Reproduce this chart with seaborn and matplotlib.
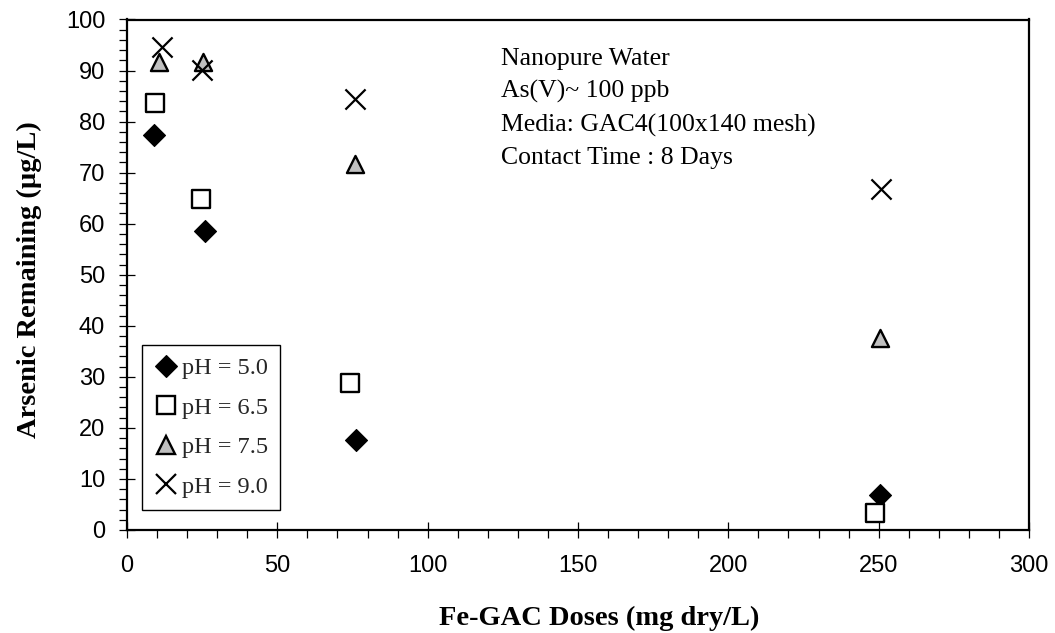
import matplotlib
matplotlib.use("Agg")
import matplotlib.pyplot as plt
from matplotlib.ticker import MultipleLocator
from matplotlib.lines import Line2D
import seaborn as sns

# Fe-GAC dose (mg dry/L) and arsenic remaining (ug/L) at each pH
dose_ph50 = [9.1, 26.0, 76.2, 250.5]
as_ph50 = [77.3, 58.5, 17.6, 6.8]
dose_ph65 = [9.4, 24.7, 74.2, 248.8]
as_ph65 = [83.6, 64.9, 28.7, 3.3]
dose_ph75 = [10.7, 25.4, 75.8, 250.3]
as_ph75 = [91.7, 91.7, 71.6, 37.6]
dose_ph90 = [11.8, 24.8, 75.8, 250.7]
as_ph90 = [94.6, 90.1, 84.4, 66.8]

labels = ["pH = 5.0", "pH = 6.5", "pH = 7.5", "pH = 9.0"]
conditions = ["Nanopure Water", "As(V)~ 100 ppb",
              "Media: GAC4(100x140 mesh)", "Contact Time : 8 Days"]

sns.set_theme(style="white")
plt.rcParams["font.family"] = ["Liberation Sans", "DejaVu Sans"]

fig = plt.figure(figsize=(10.55, 6.33), dpi=100)
ax = fig.add_axes([127 / 1055, 1 - 530 / 633, 902 / 1055, 510.5 / 633])

marker_specs = [
    dict(marker="D", size=11.2, face="black", edge="black", lw=0.8),
    dict(marker="s", size=13.0, face="white", edge="black", lw=1.7),
    dict(marker="^", size=12.3, face="#c0c0c0", edge="black", lw=1.7),
    dict(marker="x", size=14.5, face="black", edge="black", lw=1.6),
]
series = [(dose_ph50, as_ph50), (dose_ph65, as_ph65),
          (dose_ph75, as_ph75), (dose_ph90, as_ph90)]

for (xs, ys), m in zip(series, marker_specs):
    if m["marker"] == "x":
        sns.scatterplot(x=xs, y=ys, ax=ax, zorder=3, marker="x",
                        s=m["size"] ** 2, color=m["face"], linewidth=m["lw"])
    else:
        sns.scatterplot(x=xs, y=ys, ax=ax, zorder=3, marker=m["marker"],
                        s=m["size"] ** 2, color=m["face"],
                        edgecolor=m["edge"], linewidth=m["lw"])

ax.set_xlim(0, 300)
ax.set_ylim(0, 100)
ax.xaxis.set_major_locator(MultipleLocator(50))
ax.xaxis.set_minor_locator(MultipleLocator(10))
ax.yaxis.set_major_locator(MultipleLocator(10))
ax.yaxis.set_minor_locator(MultipleLocator(2))
ax.tick_params(which="major", direction="inout", length=11.5, width=0.9,
               color="black", labelsize=17, labelcolor="black")
ax.tick_params(axis="x", which="major", pad=12.5)
ax.tick_params(axis="y", which="major", pad=10)
ax.tick_params(which="minor", direction="out", length=5.5, width=0.9,
               color="black")
ax.tick_params(bottom=True, left=True, top=False, right=False, which="both")

for sp in ax.spines.values():
    sp.set_color("black")
    sp.set_linewidth(1.6)

ax.set_xlabel("Fe-GAC Doses (mg dry/L)", family="Liberation Serif",
              fontweight="bold", fontsize=20.5, color="black")
ax.set_ylabel("Arsenic Remaining (\u00b5g/L)", family="Liberation Serif",
              fontweight="bold", fontsize=20.5, color="black")
ax.xaxis.set_label_coords(0.523, -0.148)
ax.yaxis.set_label_coords(-0.094, 0.49)

ax.text(0.415, 0.944, "\n".join(conditions), transform=ax.transAxes,
        ha="left", va="top", family="Liberation Serif", fontsize=18.5,
        linespacing=1.58, color="black")

handles = []
for m in marker_specs:
    if m["marker"] == "x":
        handles.append(Line2D([], [], linestyle="none", marker="x",
                              markersize=m["size"], color="black",
                              markeredgewidth=m["lw"]))
    else:
        handles.append(Line2D([], [], linestyle="none", marker=m["marker"],
                              markersize=m["size"], markerfacecolor=m["face"],
                              markeredgecolor=m["edge"],
                              markeredgewidth=m["lw"]))

leg = ax.legend(handles, labels, loc="lower left",
                bbox_to_anchor=(0.0166, 0.039), borderaxespad=0,
                prop={"family": "Liberation Serif", "size": 17.5},
                handlelength=0.95, handletextpad=0.2, labelspacing=0.72,
                borderpad=0.5, frameon=True, fancybox=False, framealpha=1)
leg.get_frame().set_edgecolor("black")
leg.get_frame().set_linewidth(1.0)

fig.savefig("out.png", dpi=100)
